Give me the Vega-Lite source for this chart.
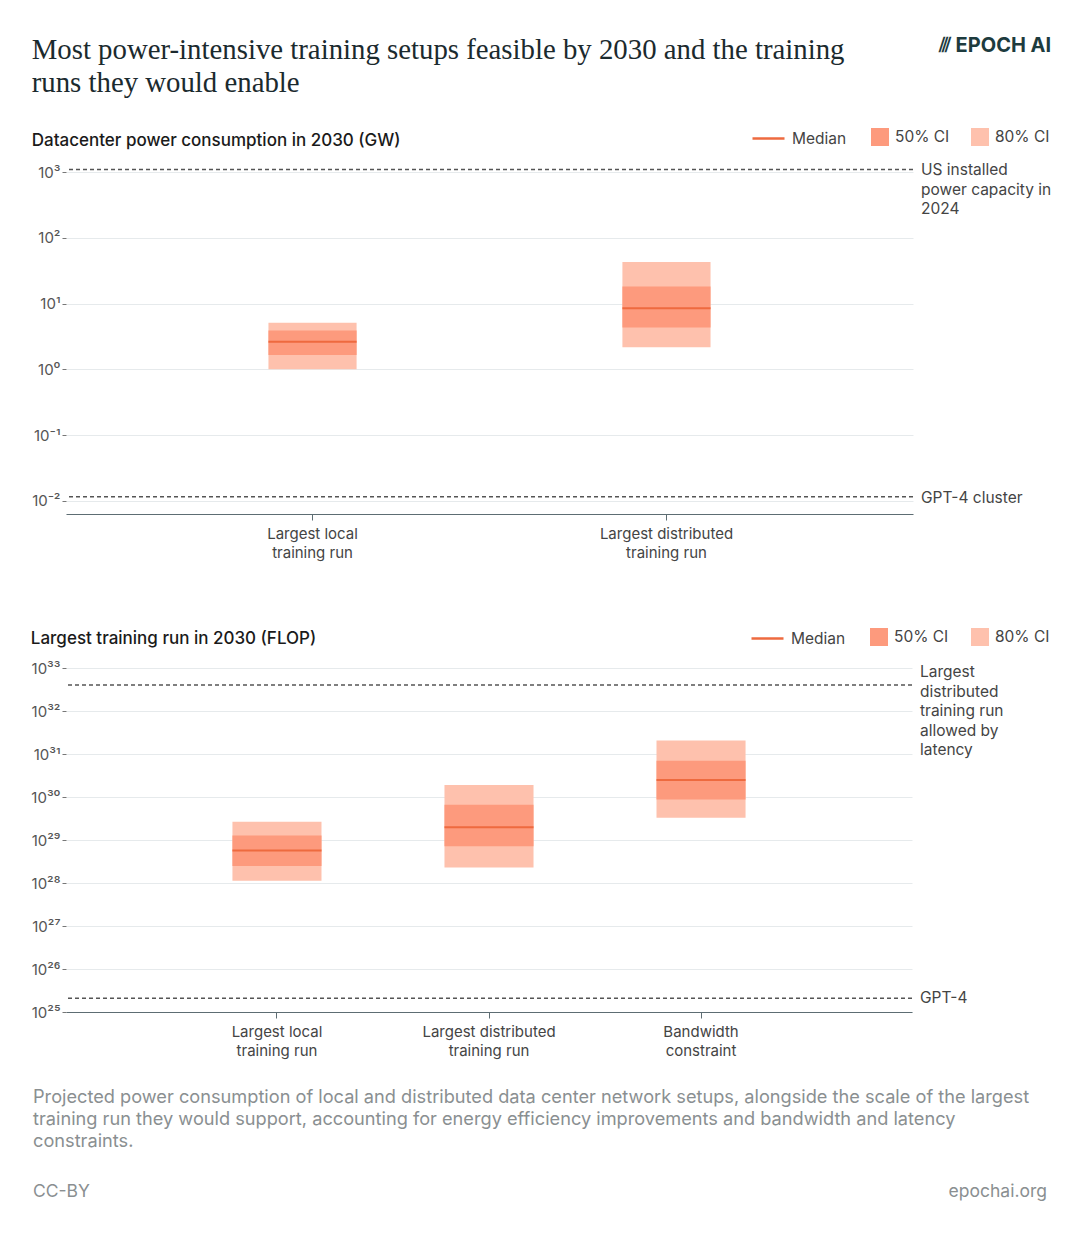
{
  "$schema": "https://vega.github.io/schema/vega-lite/v6.json",
  "background": "white",
  "padding": {"left": 30, "top": 36, "right": 0, "bottom": 0},
  "title": {"text": "⫻ EPOCH AI", "anchor": "end", "font": "Inter", "fontSize": 20, "fontWeight": 700, "color": "#1d3b3e", "offset": -20},
  "config": {
    "view": {"stroke": null},
    "font": "Inter",
    "axisX": {"title": null, "labelAngle": 0, "domainColor": "#5d6d73", "tickColor": "#5d6d73", "tickSize": 6, "labelFontSize": 15, "labelColor": "#444", "labelPadding": 6, "labelLineHeight": 19, "grid": false, "labelFont": "Inter"},
    "axisY": {"title": null, "grid": true, "gridColor": "#e6eaec", "domain": false, "tickColor": "#777", "tickSize": 4, "labelFontSize": 15, "labelColor": "#555", "labelPadding": 2, "labelFont": "Inter"},
    "legend": {"orient": "none", "title": null, "labelFontSize": 15.5, "labelColor": "#444", "labelFont": "Inter", "padding": 0, "direction": "horizontal", "labelOffset": 6}
  },
  "spacing": 29,
  "vconcat": [
    {
      "spacing": 61,
      "resolve": {"scale": {"x": "independent", "y": "independent", "fill": "independent", "stroke": "independent"}, "legend": {"fill": "independent", "stroke": "independent"}},
      "vconcat": [
        {
          "title": {"text": ["Most power-intensive training setups feasible by 2030 and the training", "runs they would enable"], "subtitle": "Datacenter power consumption in 2030 (GW)", "anchor": "start", "font": "Liberation Serif", "fontSize": 28.8, "fontWeight": "normal", "color": "#1b2a2e", "lineHeight": 33, "subtitleFont": "Inter", "subtitleFontSize": 17, "subtitleFontWeight": 500, "subtitleColor": "#1a1a1a", "subtitlePadding": 35, "offset": -28},
          "width": 847,
          "height": 347,
          "data": {"values": [
            {"setup": "Largest local training run", "p10": 1.0, "p25": 1.65, "median": 2.63, "p75": 3.9, "p90": 5.1},
            {"setup": "Largest distributed training run", "p10": 2.17, "p25": 4.34, "median": 8.5, "p75": 18.2, "p90": 43}
          ]},
          "layer": [
            {
              "mark": {"type": "bar"},
              "encoding": {
                "x": {"field": "setup", "type": "nominal", "sort": null, "scale": {"paddingInner": 0.751, "paddingOuter": 0.572}, "axis": {"labelExpr": "split(replace(datum.label, ' training', '|training'), '|')"}},
                "y": {"field": "p10", "type": "quantitative", "scale": {"type": "log", "domain": [0.0063, 1200], "nice": false}, "axis": {"values": [0.01, 0.1, 1, 10, 100, 1000], "labelExpr": "'10' + (round(log(datum.value)/LN10) < 0 ? '⁻' : '') + substring('⁰¹²³⁴⁵⁶⁷⁸⁹', abs(round(log(datum.value)/LN10)), abs(round(log(datum.value)/LN10)) + 1)"}},
                "y2": {"field": "p90"},
                "fill": {"datum": "80% CI", "type": "nominal", "scale": {"domain": ["50% CI", "80% CI"], "range": ["#fd9a7d", "#fec1ad"]}, "legend": {"symbolType": "square", "symbolSize": 324, "symbolStrokeWidth": 0, "columnPadding": 21, "legendX": 805, "legendY": -39}}
              }
            },
            {
              "mark": {"type": "bar"},
              "encoding": {
                "x": {"field": "setup", "type": "nominal", "sort": null},
                "y": {"field": "p25", "type": "quantitative"},
                "y2": {"field": "p75"},
                "fill": {"datum": "50% CI", "type": "nominal"}
              }
            },
            {
              "mark": {"type": "bar", "fillOpacity": 0, "strokeWidth": 2},
              "encoding": {
                "x": {"field": "setup", "type": "nominal", "sort": null},
                "y": {"field": "median", "type": "quantitative"},
                "y2": {"field": "median"},
                "stroke": {"datum": "Median", "type": "nominal", "scale": {"domain": ["Median"], "range": ["#ee6a3f"]}, "legend": {"symbolType": "stroke", "symbolSize": 1024, "symbolStrokeWidth": 2.5, "legendX": 685, "legendY": -46}}
              }
            },
            {
              "data": {"values": [{"value": 1100, "label": "US installed\npower capacity in\n2024"}, {"value": 0.0115, "label": "GPT-4 cluster"}]},
              "mark": {"type": "rule", "strokeDash": [4, 3], "color": "#555", "strokeWidth": 1.5},
              "encoding": {"y": {"field": "value", "type": "quantitative"}}
            },
            {
              "data": {"values": [{"value": 1100, "label": "US installed\npower capacity in\n2024"}, {"value": 0.0115, "label": "GPT-4 cluster"}]},
              "mark": {"type": "text", "x": "width", "dx": 8, "dy": -6, "align": "left", "baseline": "top", "lineBreak": "\n", "fontSize": 15.5, "lineHeight": 19.5, "color": "#444"},
              "encoding": {"y": {"field": "value", "type": "quantitative"}, "text": {"field": "label"}}
            }
          ]
        },
        {
          "title": {"text": "Largest training run in 2030 (FLOP)", "anchor": "start", "font": "Inter", "fontSize": 17, "fontWeight": 500, "color": "#1a1a1a", "offset": -27},
          "width": 846,
          "height": 344,
          "data": {"values": [
            {"setup": "Largest local training run", "p10": 1.13e28, "p25": 2.5e28, "median": 5.7e28, "p75": 1.27e29, "p90": 2.67e29},
            {"setup": "Largest distributed training run", "p10": 2.3e28, "p25": 7.2e28, "median": 1.97e29, "p75": 6.6e29, "p90": 1.91e30},
            {"setup": "Bandwidth constraint", "p10": 3.3e29, "p25": 8.8e29, "median": 2.5e30, "p75": 7.0e30, "p90": 2.07e31}
          ]},
          "layer": [
            {
              "mark": {"type": "bar"},
              "encoding": {
                "x": {"field": "setup", "type": "nominal", "sort": null, "scale": {"paddingInner": 0.58, "paddingOuter": 0.785}, "axis": {"labelExpr": "split(replace(replace(datum.label, ' training', '|training'), 'Bandwidth ', 'Bandwidth|'), '|')"}},
                "y": {"field": "p10", "type": "quantitative", "scale": {"type": "log", "domain": [1e25, 1e33], "nice": false}, "axis": {"values": [1e25, 1e26, 1e27, 1e28, 1e29, 1e30, 1e31, 1e32, 1e33], "labelExpr": "'10' + substring('⁰¹²³⁴⁵⁶⁷⁸⁹', floor(round(log(datum.value)/LN10)/10), floor(round(log(datum.value)/LN10)/10) + 1) + substring('⁰¹²³⁴⁵⁶⁷⁸⁹', round(log(datum.value)/LN10) % 10, round(log(datum.value)/LN10) % 10 + 1)"}},
                "y2": {"field": "p90"},
                "fill": {"datum": "80% CI", "type": "nominal", "scale": {"domain": ["50% CI", "80% CI"], "range": ["#fd9a7d", "#fec1ad"]}, "legend": {"symbolType": "square", "symbolSize": 324, "symbolStrokeWidth": 0, "columnPadding": 22, "legendX": 804, "legendY": -40}}
              }
            },
            {
              "mark": {"type": "bar"},
              "encoding": {
                "x": {"field": "setup", "type": "nominal", "sort": null},
                "y": {"field": "p25", "type": "quantitative"},
                "y2": {"field": "p75"},
                "fill": {"datum": "50% CI", "type": "nominal"}
              }
            },
            {
              "mark": {"type": "bar", "fillOpacity": 0, "strokeWidth": 2},
              "encoding": {
                "x": {"field": "setup", "type": "nominal", "sort": null},
                "y": {"field": "median", "type": "quantitative"},
                "y2": {"field": "median"},
                "stroke": {"datum": "Median", "type": "nominal", "scale": {"domain": ["Median"], "range": ["#ee6a3f"]}, "legend": {"symbolType": "stroke", "symbolSize": 1024, "symbolStrokeWidth": 2.5, "legendX": 684, "legendY": -47}}
              }
            },
            {
              "data": {"values": [{"value": 4e32, "label": "Largest\ndistributed\ntraining run\nallowed by\nlatency"}, {"value": 2.1e25, "label": "GPT-4"}]},
              "mark": {"type": "rule", "strokeDash": [4, 3], "color": "#555", "strokeWidth": 1.5},
              "encoding": {"y": {"field": "value", "type": "quantitative"}}
            },
            {
              "data": {"values": [{"value": 4e32, "label": "Largest\ndistributed\ntraining run\nallowed by\nlatency"}]},
              "mark": {"type": "text", "x": "width", "dx": 8, "dy": -20, "align": "left", "baseline": "top", "lineBreak": "\n", "fontSize": 15.5, "lineHeight": 19.5, "color": "#444"},
              "encoding": {"y": {"field": "value", "type": "quantitative"}, "text": {"field": "label"}}
            },
            {
              "data": {"values": [{"value": 2.1e25, "label": "GPT-4"}]},
              "mark": {"type": "text", "x": "width", "dx": 8, "dy": -7, "align": "left", "baseline": "top", "fontSize": 15.5, "color": "#444"},
              "encoding": {"y": {"field": "value", "type": "quantitative"}, "text": {"field": "label"}}
            }
          ]
        }
      ]
    },
    {
      "width": 847,
      "height": 16,
      "title": {"text": ["Projected power consumption of local and distributed data center network setups, alongside the scale of the largest", "training run they would support, accounting for energy efficiency improvements and bandwidth and latency", "constraints."], "anchor": "start", "font": "Inter", "fontSize": 18.2, "fontWeight": "normal", "color": "#8a8f91", "lineHeight": 22, "offset": 32},
      "data": {"values": [{"side": "left", "text": "CC-BY"}, {"side": "right", "text": "epochai.org"}]},
      "layer": [
        {
          "transform": [{"filter": "datum.side == 'left'"}],
          "mark": {"type": "text", "align": "left", "fontSize": 17.5, "color": "#8a8f91"},
          "encoding": {"x": {"field": "side", "type": "nominal", "scale": {"type": "point", "domain": ["left", "right"], "range": [-33, 981], "padding": 0}, "axis": null}, "text": {"field": "text"}}
        },
        {
          "transform": [{"filter": "datum.side == 'right'"}],
          "mark": {"type": "text", "align": "right", "fontSize": 17.5, "color": "#8a8f91"},
          "encoding": {"x": {"field": "side", "type": "nominal"}, "text": {"field": "text"}}
        }
      ]
    }
  ]
}
